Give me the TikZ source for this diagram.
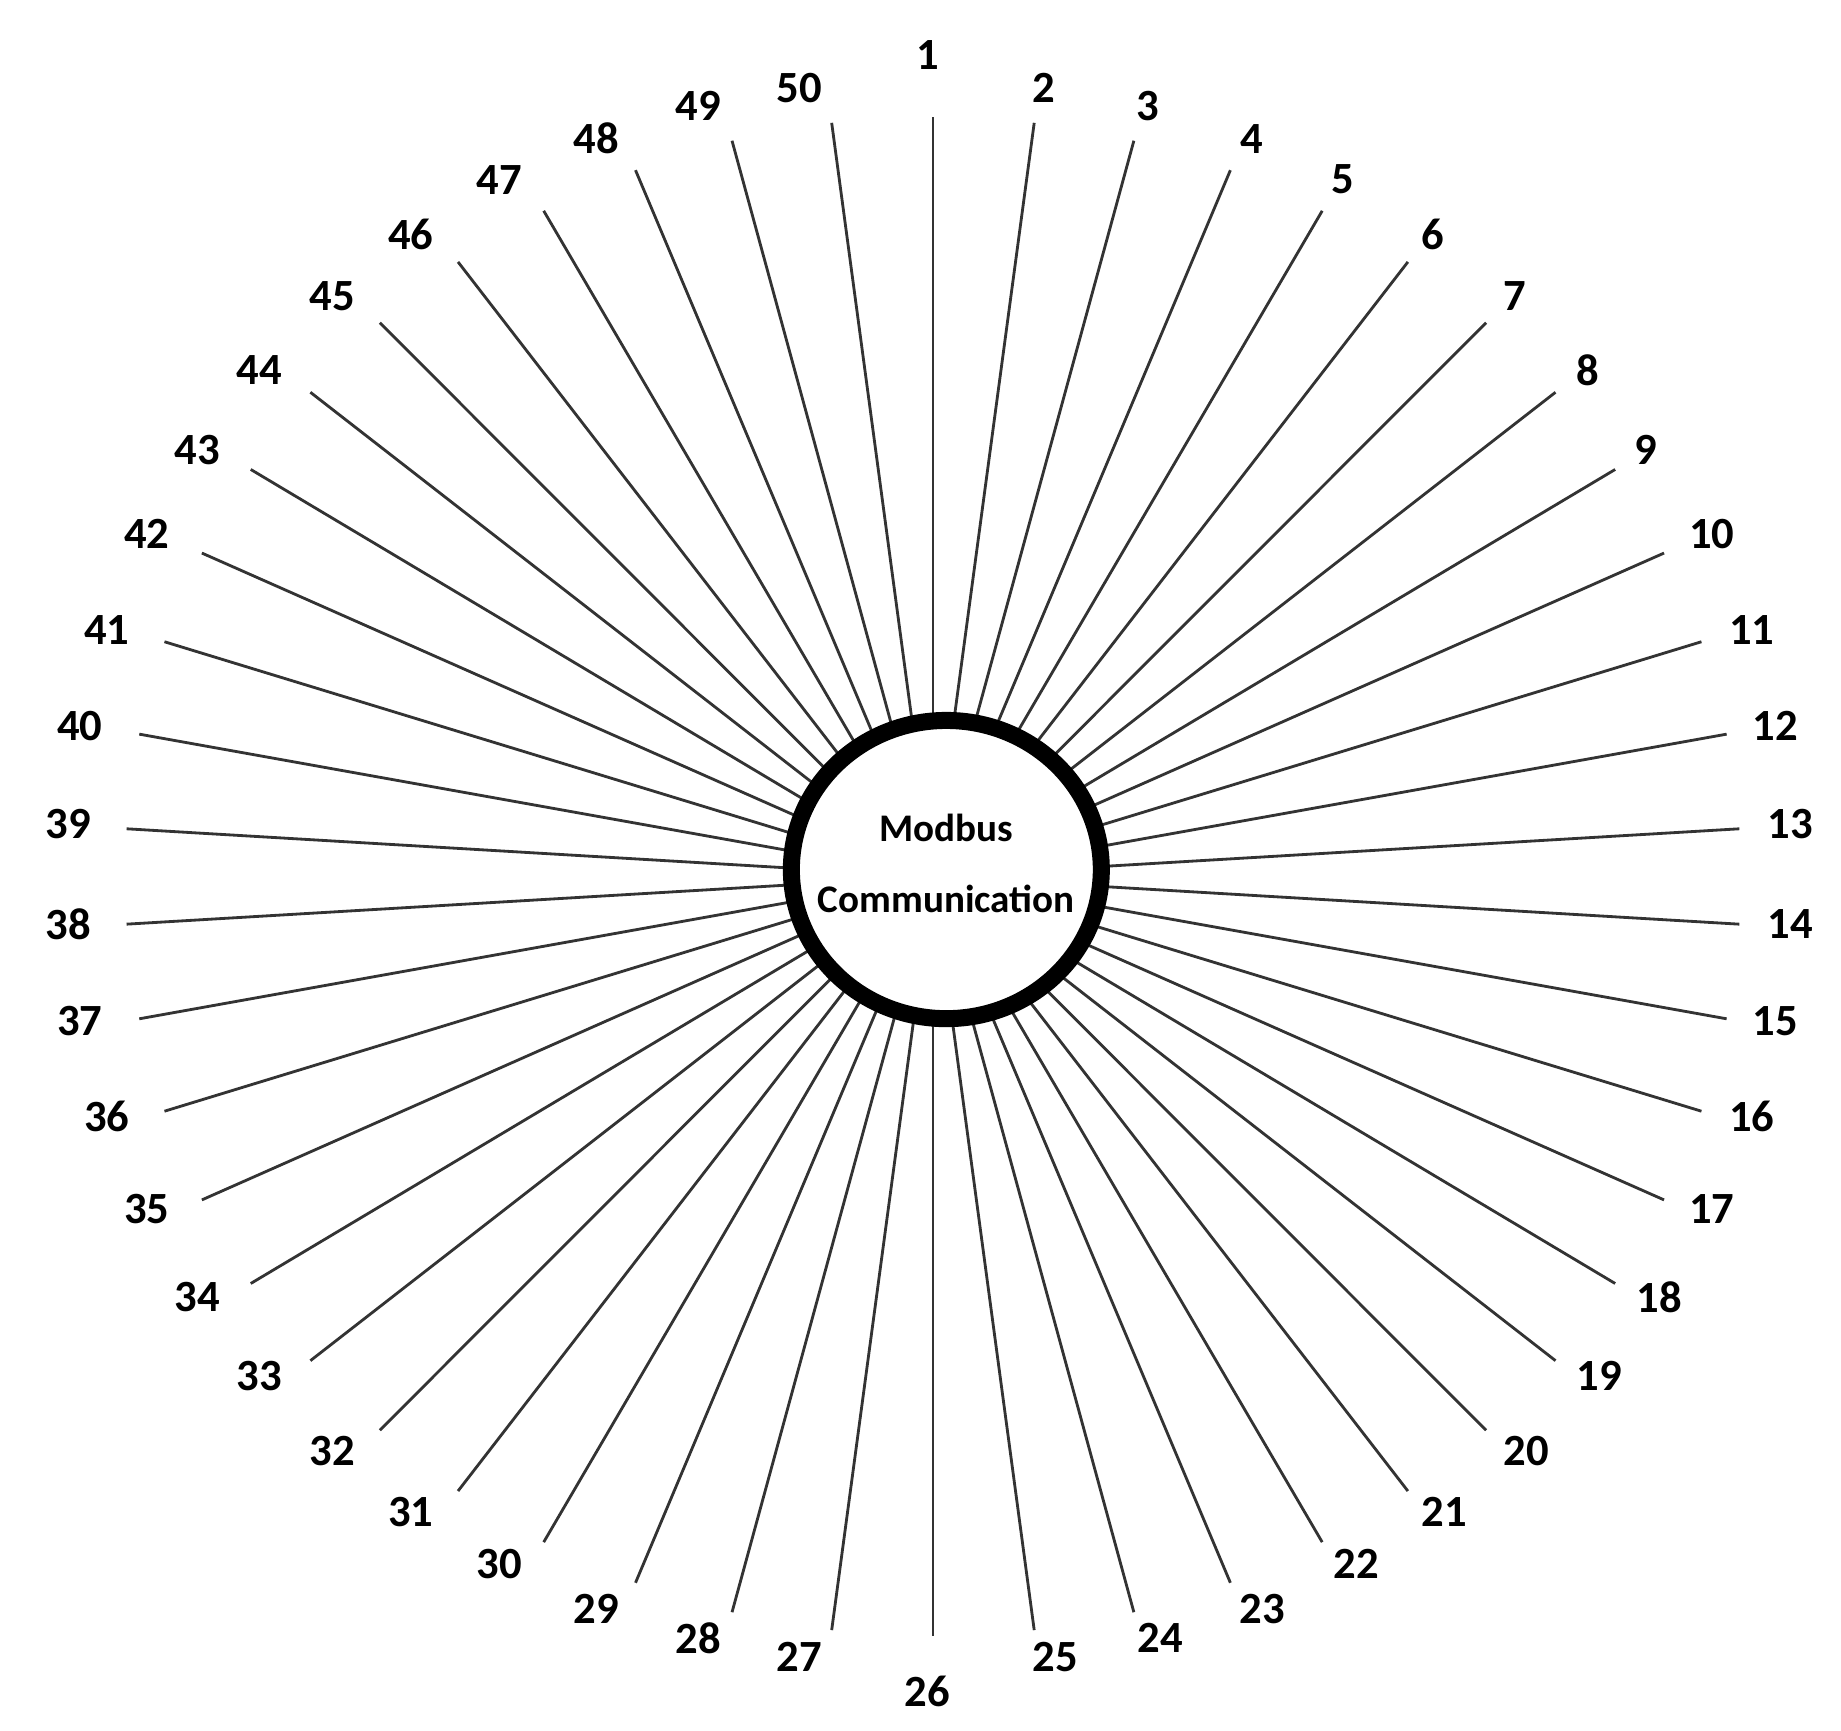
\documentclass[tikz,border=0pt]{standalone}
\usepackage{fontspec}
\setmainfont{Carlito}
\usetikzlibrary{shapes.geometric}
\tikzset{
  spoke/.style={line width=2.4pt, draw=black!80},
  numlabel/.style={inner sep=0pt, font=\fontsize{38}{40}\selectfont\bfseries},
  hubcircle/.style={ellipse, draw=black, fill=white, line width=14.5pt, minimum width=264pt, minimum height=254pt, inner sep=0pt},
  hubtext/.style={inner sep=0pt, anchor=base, font=\fontsize{33.3}{36}\selectfont\bfseries}
}
\begin{document}
\begin{tikzpicture}[x=1pt,y=-1pt]
\useasboundingbox (0,0) rectangle (1568,1474);
\coordinate (hub) at (794.6,746.5);
\foreach \k in {1,...,50}{
  \pgfmathsetmacro\ang{90-(\k-1)*7.2}
  \coordinate (e\k) at ({794.6+688.2*cos(\ang)},{746.5-647*sin(\ang)});
  \draw[spoke] (hub) -- (e\k);
}
\node[hubcircle] (mc) at (806,740.6) {};
\node[hubtext] (t1) at (806,717) {Modbus};
\node[hubtext] (t2) at (806,777) {Communication};
\foreach \k/\x/\y in {1/790/47, 2/889/75, 3/978/90, 4/1066/118, 5/1144/153, 6/1220/200, 7/1290/252, 8/1352/315, 9/1402/383, 10/1458/455,
 11/1492/537, 12/1512/618, 13/1525/702, 14/1525/787, 15/1512/870, 16/1492/951, 17/1458/1030, 18/1413/1105, 19/1362/1172, 20/1300/1236,
 21/1230/1288, 22/1155/1332, 23/1075/1370, 24/988/1395, 25/899/1411, 26/790/1441, 27/681/1411, 28/595/1395, 29/508/1370, 30/425/1332,
 31/350/1288, 32/283/1236, 33/221/1172, 34/168/1105, 35/125/1030, 36/91/951, 37/68/870, 38/58/787, 39/58/702, 40/68/618,
 41/91/537, 42/125/455, 43/168/383, 44/221/315, 45/283/252, 46/350/200, 47/425/153, 48/508/118, 49/595/90, 50/681/75}{
  \node[numlabel] (l\k) at (\x,\y) {\k};
}
\end{tikzpicture}
\end{document}
